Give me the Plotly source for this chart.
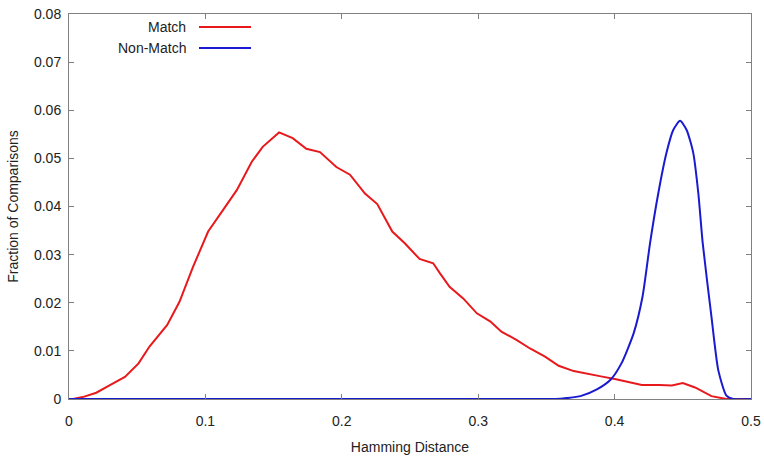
import plotly.graph_objects as go

# Match (red) distribution
match_x = [0, 0.003, 0.010, 0.020, 0.030, 0.041, 0.051, 0.059, 0.072, 0.081, 0.091,
           0.102, 0.113, 0.123, 0.134, 0.142, 0.154, 0.164, 0.174, 0.184, 0.196,
           0.206, 0.217, 0.226, 0.237, 0.246, 0.257, 0.267, 0.272, 0.279, 0.289,
           0.299, 0.309, 0.317, 0.328, 0.338, 0.349, 0.359, 0.370, 0.380, 0.390,
           0.401, 0.410, 0.420, 0.433, 0.442, 0.450, 0.459, 0.471, 0.482, 0.5]
match_y = [0, 0, 0.0004, 0.0013, 0.0029, 0.0046, 0.0074, 0.0109, 0.0154, 0.0202, 0.0275,
           0.0348, 0.0393, 0.0434, 0.0493, 0.0524, 0.0554, 0.0542, 0.0520, 0.0513, 0.0482,
           0.0466, 0.0427, 0.0405, 0.0348, 0.0324, 0.0291, 0.0282, 0.0261, 0.0233, 0.0209,
           0.0178, 0.0161, 0.0140, 0.0123, 0.0105, 0.0088, 0.0069, 0.0058, 0.0052, 0.0047,
           0.0041, 0.0036, 0.0029, 0.0029, 0.0028, 0.0033, 0.0024, 0.0006, 0, 0]

# Non-Match (blue) distribution
nonmatch_x = [0, 0.35, 0.357, 0.365, 0.375, 0.387, 0.397, 0.405, 0.414, 0.4205, 0.426,
              0.432, 0.438, 0.443, 0.448, 0.4528, 0.4577, 0.4614, 0.4646, 0.471, 0.476,
              0.482, 0.487, 0.5]
nonmatch_y = [0, 0, 0, 0.0002, 0.0006, 0.0020, 0.0040, 0.0074, 0.0137, 0.0213, 0.0324,
              0.0427, 0.0511, 0.0559, 0.0578, 0.0559, 0.0511, 0.0427, 0.0324, 0.0171, 0.0060,
              0.0007, 0, 0]

x_ticks = [0, 0.1, 0.2, 0.3, 0.4, 0.5]
x_tick_labels = ["0", "0.1", "0.2", "0.3", "0.4", "0.5"]
y_ticks = [0, 0.01, 0.02, 0.03, 0.04, 0.05, 0.06, 0.07, 0.08]
y_tick_labels = ["0", "0.01", "0.02", "0.03", "0.04", "0.05", "0.06", "0.07", "0.08"]
series_names = ["Match", "Non-Match"]
series_colors = ["#e8191c", "#1a1ad0"]

fig = go.Figure()
fig.add_trace(go.Scatter(x=match_x, y=match_y, mode="lines", name=series_names[0],
                         line=dict(color=series_colors[0], width=2), showlegend=False))
fig.add_trace(go.Scatter(x=nonmatch_x, y=nonmatch_y, mode="lines", name=series_names[1],
                         line=dict(color=series_colors[1], width=2, shape="spline", smoothing=0.6),
                         showlegend=False))

font = dict(family="Liberation Sans, Arial, sans-serif", size=14, color="#222")
axis_common = dict(showgrid=False, zeroline=False, showline=True, linecolor="#808080",
                   linewidth=1, mirror="ticks", ticks="inside", ticklen=5,
                   tickcolor="#808080", tickfont=font, automargin=False)

fig.update_layout(
    width=764, height=459,
    margin=dict(l=69, r=13, t=14, b=60),
    paper_bgcolor="white", plot_bgcolor="white",
    font=font,
    xaxis=dict(range=[0, 0.5], tickvals=x_ticks, ticktext=x_tick_labels,
               ticklabelstandoff=9,
               title=dict(text="Hamming Distance", font=font, standoff=14), **axis_common),
    yaxis=dict(range=[0, 0.08], tickvals=y_ticks, ticktext=y_tick_labels,
               ticklabelstandoff=4,
               title=dict(text="Fraction of Comparisons", font=font, standoff=12), **axis_common),
)

# gnuplot-style legend: text right-aligned, sample line to its right
leg_y = [0.966, 0.912]
for name, color, yy in zip(series_names, series_colors, leg_y):
    fig.add_annotation(x=0.1745, y=yy, xref="paper", yref="paper", text=name,
                       showarrow=False, xanchor="right", yanchor="middle", font=font)
    fig.add_shape(type="line", xref="paper", yref="paper", x0=0.1906, x1=0.2669,
                  y0=yy, y1=yy, line=dict(color=color, width=2))

fig.write_html("out.html")
